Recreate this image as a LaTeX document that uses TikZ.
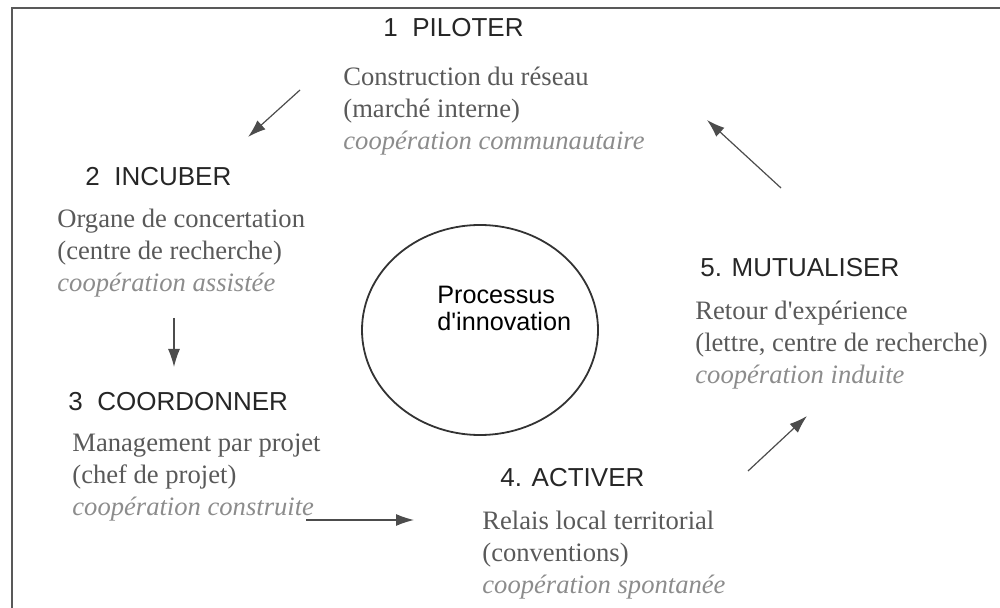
\documentclass[tikz,border=0pt]{standalone}
\usepackage{fontspec}
\setmainfont{Liberation Serif}
\setsansfont{Liberation Sans}
\usetikzlibrary{arrows.meta, shapes.geometric}

\begin{document}
\begin{tikzpicture}[x=0.5pt, y=-0.5pt,
  titre/.style={font=\sffamily\fontsize{13}{15}\selectfont, text=black!85, anchor=west, inner sep=0pt},
  corps/.style={font=\rmfamily\fontsize{13.3}{16}\selectfont, text=black!65, anchor=west, align=left, inner sep=0pt},
  fleche/.style={-{Latex[length=9pt, width=6pt]}, line width=0.6pt, black!70}]
  \useasboundingbox (0,0) rectangle (1000,608);

  % Frame (top and left edges only)
  \draw[line width=1.2pt, black!65] (12,608) -- (12,8) -- (1000,8);

  % Define points
  \coordinate (a1s) at (300,90);   % towards INCUBER
  \coordinate (a1e) at (248,137);
  \coordinate (a2s) at (174,318);  % towards COORDONNER
  \coordinate (a2e) at (174,367);
  \coordinate (a3s) at (306,520);  % towards ACTIVER
  \coordinate (a3e) at (414,520);
  \coordinate (a4s) at (748,471);  % towards MUTUALISER
  \coordinate (a4e) at (807,416);
  \coordinate (a5s) at (781,188);  % back to PILOTER
  \coordinate (a5e) at (707,120);

  % Centre
  \node[draw, ellipse, line width=0.9pt, black!80, minimum width=118pt, minimum height=105pt] (proc) at (480,330) {};
  \node[font=\sffamily\fontsize{12.6}{13.5}\selectfont, anchor=west, align=left, inner sep=0pt] (proctxt) at (437,308) {Processus\\d\textquotesingle innovation};

  % Steps
  \node[titre] (p1) at (383,28) {1\ \ PILOTER};
  \node[corps] (t1) at (343,111) {Construction du réseau\\(marché interne)\\{\color{black!45}\itshape coopération communautaire}};

  \node[titre] (p2) at (85,177) {2\ \ INCUBER};
  \node[corps] (t2) at (57,253) {Organe de concertation\\(centre de recherche)\\{\color{black!45}\itshape coopération assistée}};

  \node[titre] (p3) at (68,402) {3\ \ COORDONNER};
  \node[corps] (t3) at (72,478) {Management par projet\\(chef de projet)\\{\color{black!45}\itshape coopération construite}};

  \node[titre] (p4) at (500,478) {4. ACTIVER};
  \node[corps] (t4) at (482,555) {Relais local territorial\\(conventions)\\{\color{black!45}\itshape coopération spontanée}};

  \node[titre] (p5) at (700,268) {5. MUTUALISER};
  \node[corps] (t5) at (695,345) {Retour d\textquotesingle expérience\\(lettre, centre de recherche)\\{\color{black!45}\itshape coopération induite}};

  % Draw arrows
  \draw[fleche] (a1s) -- (a1e);
  \draw[fleche] (a2s) -- (a2e);
  \draw[fleche] (a3s) -- (a3e);
  \draw[fleche] (a4s) -- (a4e);
  \draw[fleche] (a5s) -- (a5e);
\end{tikzpicture}
\end{document}
